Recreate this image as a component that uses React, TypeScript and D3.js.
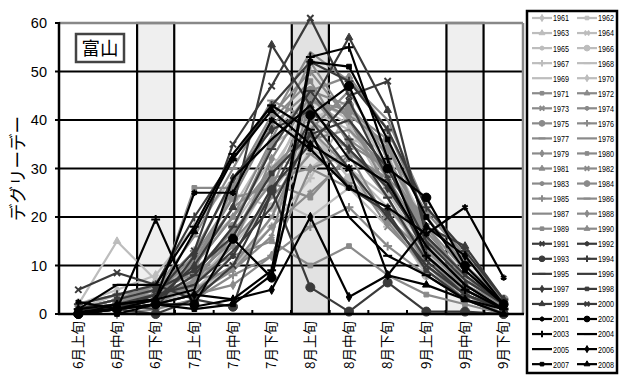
import React from 'react';
import * as d3 from 'd3';

const width = 619;
const height = 378;
const margin = { top: 23, left: 59, right: 96, bottom: 64 };

const dekads = ['6月上旬', '6月中旬', '6月下旬', '7月上旬', '7月中旬', '7月下旬', '8月上旬', '8月中旬', '8月下旬', '9月上旬', '9月中旬', '9月下旬'];
const yTicks = [0, 10, 20, 30, 40, 50, 60];
const shadedDekads = ['6月下旬', '8月上旬', '9月中旬'];
const shadedValue = 60;

const years = [1961, 1962, 1963, 1964, 1965, 1966, 1967, 1968, 1969, 1970,
  1971, 1972, 1973, 1974, 1975, 1976, 1977, 1978, 1979, 1980,
  1981, 1982, 1983, 1984, 1985, 1986, 1987, 1988, 1989, 1990,
  1991, 1992, 1993, 1994, 1995, 1996, 1997, 1998, 1999, 2000,
  2001, 2002, 2003, 2004, 2005, 2006, 2007, 2008];

// degree-days per dekad, one row per year
const values1960s = [
  [1, 3, 5, 8, 18, 30, 42, 38, 28, 14, 6, 2],
  [0, 2, 4, 10, 22, 35, 40, 44, 30, 16, 8, 1],
  [2, 15, 7, 5, 12, 25, 36, 30, 22, 12, 5, 1],
  [0, 1, 3, 6, 15, 28, 45, 40, 26, 10, 4, 0],
  [1, 4, 2, 12, 20, 32, 30, 36, 34, 18, 7, 2],
  [0, 2, 6, 9, 25, 22, 38, 28, 20, 8, 3, 0],
  [0, 0, 1, 3, 10, 18, 28, 42, 33, 15, 5, 1],
  [1, 3, 4, 7, 14, 24, 20, 26, 18, 12, 6, 1],
  [0, 1, 2, 5, 9, 20, 34, 30, 24, 9, 3, 0],
  [2, 5, 8, 18, 28, 38, 44, 39, 25, 13, 5, 1],
];
const values1970s = [
  [0, 2, 3, 26, 26, 40, 48, 35, 30, 16, 6, 1],
  [1, 3, 6, 10, 20, 36, 52, 40, 28, 12, 4, 1],
  [0, 1, 2, 7, 16, 30, 38, 46, 32, 18, 9, 2],
  [2, 4, 5, 4, 9, 18, 25, 32, 28, 20, 10, 3],
  [0, 2, 4, 12, 24, 26, 44, 42, 36, 14, 5, 1],
  [0, 0, 1, 3, 8, 12, 18, 22, 14, 8, 3, 0],
  [1, 3, 5, 16, 30, 44, 40, 34, 24, 10, 4, 1],
  [0, 2, 4, 9, 26, 40, 54, 48, 40, 22, 12, 2],
  [0, 1, 3, 6, 14, 32, 45, 36, 30, 17, 8, 1],
  [1, 2, 6, 8, 12, 15, 10, 14, 8, 4, 2, 0],
];
const values1980s = [
  [0, 1, 2, 11, 22, 28, 30, 26, 22, 13, 6, 1],
  [1, 3, 4, 5, 10, 20, 38, 30, 18, 10, 3, 1],
  [0, 2, 3, 7, 9, 16, 44, 41, 35, 16, 6, 2],
  [0, 1, 2, 6, 18, 35, 46, 43, 34, 21, 12, 3],
  [1, 2, 5, 13, 27, 41, 50, 40, 26, 14, 5, 1],
  [0, 1, 3, 8, 15, 24, 33, 27, 20, 12, 4, 0],
  [1, 3, 4, 10, 20, 30, 36, 38, 30, 18, 7, 2],
  [0, 1, 2, 4, 6, 12, 30, 33, 19, 9, 3, 0],
  [0, 2, 4, 9, 17, 27, 24, 33, 28, 15, 8, 2],
  [1, 2, 3, 11, 24, 39, 46, 49, 38, 20, 10, 2],
];
const values1990s = [
  [5, 8.5, 6, 3, 10, 25, 40, 30, 20, 10, 4, 1],
  [0, 1, 2, 4, 12, 26, 35, 44, 28, 12, 5, 1],
  [0, 1, 0, 3, 1.5, 25.5, 5.5, 0.5, 6.5, 0.5, 0.5, 0],
  [2, 4, 6, 20, 32, 43, 52, 48, 38, 22, 13, 3],
  [0, 2, 3, 8, 18, 34, 46, 36, 24, 11, 4, 1],
  [1, 1, 4, 6, 13, 22, 37, 40, 30, 15, 7, 2],
  [0, 2, 1, 12, 28, 38, 42, 34, 26, 14, 6, 1],
  [1, 3, 5, 9, 16, 29, 37, 26, 21, 9, 3, 0],
  [0, 1, 3, 10, 22, 55.5, 43, 57, 42, 18, 14, 3],
  [0, 2, 4, 13, 35, 47, 61, 45, 48, 16, 8, 2],
];
const values2000s = [
  [2.5, 1, 3, 25, 25, 40, 34, 26, 22, 16.5, 22, 7.5],
  [0, 1, 2, 2, 15.5, 7.5, 41, 47, 30, 24, 10, 2],
  [0.5, 1, 19.5, 1.5, 3, 9, 53, 55, 32, 12, 5, 1],
  [1, 6, 6, 18, 33, 43, 38, 20, 12, 8, 3, 1],
  [0, 2, 3, 5, 28, 36, 43, 32, 27, 14, 6, 1],
  [0, 1, 2, 4, 3, 5, 20, 3.5, 8, 18, 12, 2],
  [0, 0, 2, 1, 2, 8, 52, 51, 36, 20, 9, 2],
  [1, 2, 3, 17, 32, 42, 35, 30, 8, 6, 3, 0],
];

const markerCycle = ['diamond', 'square', 'triangle', 'x', 'star', 'circle', 'plus', 'dash', 'none'];

function colorFor(year: number) {
  if (year <= 1970) return '#bdbdbd';
  if (year <= 1990) return '#8a8a8a';
  if (year <= 2000) return '#3a3a3a';
  return '#000000';
}

const allValues = [...values1960s, ...values1970s, ...values1980s, ...values1990s, ...values2000s];

function Marker({ kind, x, y, color, s }: { kind: string; x: number; y: number; color: string; s: number }) {
  const t = `translate(${x},${y})`;
  if (kind === 'none') return null;
  if (kind === 'dash') return <path d={`M${-s * 0.9},0H${s * 0.9}`} transform={t} stroke={color} strokeWidth={2} />;
  if (kind === 'x' || kind === 'star' || kind === 'plus') {
    const sym = kind === 'x' ? d3.symbolTimes : kind === 'star' ? d3.symbolAsterisk : d3.symbolPlus;
    return <path d={d3.symbol(sym, s * s * 1.1)() as string} transform={t} fill="none" stroke={color} strokeWidth={2} />;
  }
  const sym = kind === 'diamond' ? d3.symbolDiamond : kind === 'square' ? d3.symbolSquare : kind === 'triangle' ? d3.symbolTriangle : d3.symbolCircle;
  const area = kind === 'circle' ? s * s * 1.3 : kind === 'square' ? s * s * 0.9 : s * s;
  return <path d={d3.symbol(sym, area)() as string} transform={t} fill={color} stroke={color} strokeWidth={1} />;
}

export default function App() {
  const x = d3.scaleBand<string>().domain(dekads).range([margin.left, width - margin.right]).paddingInner(0).paddingOuter(0);
  const y = d3.scaleLinear().domain([0, 60]).range([height - margin.bottom, margin.top]);
  const bw = x.bandwidth();
  const cx = (d: string) => (x(d) as number) + bw / 2;
  const line = d3.line<number>().x((_, i) => cx(dekads[i])).y(v => y(v));

  const left = margin.left, right = width - margin.right, top = margin.top, bottom = height - margin.bottom;

  const legendX = 527, legendY = 11, legendW = 90, legendH = 362;
  const rowH = 15.05;

  return (
    <svg width={width} height={height} style={{ position: 'absolute', left: 0, top: 0, background: '#fff' }}>
      <rect x={0} y={0} width={width} height={height} fill="#fff" />
      {/* shaded columns */}
      {shadedDekads.map(d => (
        <rect key={d} x={(x(d) as number) + bw * 0.02} y={y(shadedValue)} width={bw * 0.96} height={y(0) - y(shadedValue)}
          fill={d === '8月上旬' ? '#e2e2e2' : '#efefef'} stroke="#000" strokeWidth={2.2} />
      ))}
      {/* grid */}
      {yTicks.filter(t => t > 0 && t < 60).map(t => (
        <line key={t} x1={left} x2={right} y1={y(t)} y2={y(t)} stroke="#000" strokeWidth={2} />
      ))}
      <line x1={left} x2={right} y1={top} y2={top} stroke="#888" strokeWidth={2.5} />
      <line x1={right} x2={right} y1={top} y2={bottom} stroke="#888" strokeWidth={2.5} />
      {/* series */}
      {allValues.map((vals, k) => {
        const yr = years[k];
        const c = colorFor(yr);
        const kind = markerCycle[k % markerCycle.length];
        return (
          <g key={yr}>
            <path d={line(vals) as string} fill="none" stroke={c} strokeWidth={2.2} strokeLinejoin="round" />
            {vals.map((v, i) => <Marker key={i} kind={kind} x={cx(dekads[i])} y={y(v)} color={c} s={kind === 'circle' ? 7 : 5} />)}
          </g>
        );
      })}
      {/* axes */}
      <line x1={left} x2={left} y1={top - 1} y2={bottom + 1} stroke="#000" strokeWidth={2.5} />
      <line x1={left - 1} x2={right + 1} y1={bottom} y2={bottom} stroke="#000" strokeWidth={2.5} />
      {yTicks.map(t => (
        <g key={t}>
          <line x1={left - 4} x2={left} y1={y(t)} y2={y(t)} stroke="#000" strokeWidth={2} />
          <text x={47} y={y(t)} dy="0.35em" textAnchor="end" fontFamily="'Liberation Sans', Arial, sans-serif" fontSize={14.5}>{t}</text>
        </g>
      ))}
      {dekads.slice(1).map(d => (
        <line key={d} x1={x(d) as number} x2={x(d) as number} y1={bottom} y2={bottom - 4} stroke="#000" strokeWidth={2} />
      ))}
      {dekads.map(d => (
        <text key={d} transform={`translate(${cx(d) + 4.5},${bottom + 7}) rotate(-90)`} textAnchor="end"
          fontFamily="'Noto Sans CJK JP', sans-serif" fontSize={13.5}>{d}</text>
      ))}
      <text transform={`translate(24,${(top + bottom) / 2}) rotate(-90)`} textAnchor="middle"
        fontFamily="'Noto Sans CJK JP', sans-serif" fontSize={17.5}>デグリーデー</text>
      {/* station label */}
      <rect x={76} y={34} width={48} height={28} fill="#fff" stroke="#444" strokeWidth={2.5} />
      <text x={100} y={48} dy="0.36em" textAnchor="middle" fontFamily="'Noto Sans CJK JP', sans-serif" fontSize={18.5}>富山</text>
      {/* legend */}
      <rect x={legendX} y={legendY} width={legendW} height={legendH} fill="#fff" stroke="#000" strokeWidth={2.5} />
      {years.map((yr, k) => {
        const col = k % 2;
        const row = Math.floor(k / 2);
        const ly = 18 + row * rowH;
        const lx = col === 0 ? 532 : 577;
        const c = colorFor(yr);
        const kind = markerCycle[k % markerCycle.length];
        return (
          <g key={yr}>
            <line x1={lx} x2={lx + 20} y1={ly} y2={ly} stroke={c} strokeWidth={2.2} />
            <Marker kind={kind} x={lx + 10} y={ly} color={c} s={kind === 'circle' ? 4.5 : 3.8} />
            <text x={lx + 21} y={ly} dy="0.36em" fill="#000" fontFamily="'Liberation Sans', Arial, sans-serif" fontSize={9.5}
              textLength={16} lengthAdjust="spacingAndGlyphs">{yr}</text>
          </g>
        );
      })}
    </svg>
  );
}
